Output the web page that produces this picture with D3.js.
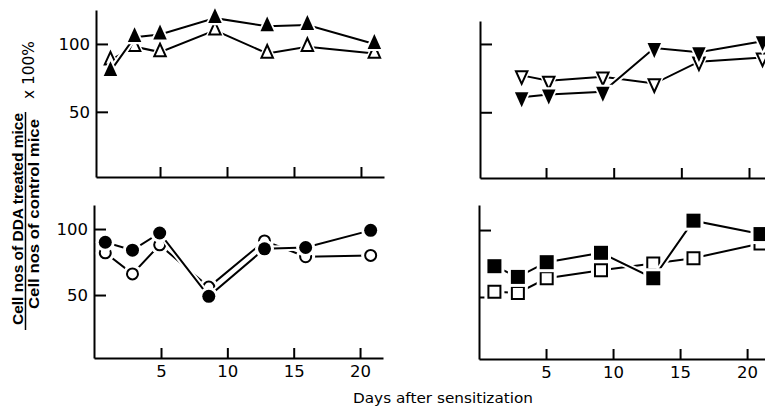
<!doctype html>
<html>
<meta charset="UTF-8">
<head>
<title>DDA treated / control</title>
<script src="https://cdn.jsdelivr.net/npm/d3@7"></script>
<style>
  body { margin:0; background:#fff; }
  .tick text { font-family:'DejaVu Sans', sans-serif; font-size:16.5px; fill:#000; }
</style>
</head>
<body>
<script>
// days after sensitization / ratio (%)
var xTicks = [5, 10, 15, 20];
var yTicks = [50, 100];

// upper left: triangles
var ulDays   = [1.3, 3.1, 5.0, 9.1, 13.0, 16.0, 21.0];
var ulFilled = [80, 105, 107, 119, 113, 114, 100];
var ulOpen   = [88, 98, 94, 110, 93, 98, 93];

// upper right: inverted triangles
var urDays   = [3.2, 5.2, 9.2, 13.0, 16.3, 21.0];
var urFilled = [61, 63, 65, 97, 94, 102];
var urOpen   = [77, 73, 76, 71, 87, 90];

// lower left: circles
var llDays   = [0.8, 2.85, 4.9, 8.6, 12.8, 15.9, 20.8];
var llFilled = [90, 84, 97, 49, 85, 86, 99];
var llOpen   = [82, 66, 88, 56, 91, 79, 80];

// lower right: squares
var lrDays   = [1.15, 2.9, 5.05, 9.1, 13.0, 16.0, 21.0];
var lrFilled = [73, 65, 76, 83, 64, 107, 97];
var lrOpen   = [54, 53, 64, 70, 75, 79, 90];

var width = 765, height = 408;

var svg = d3.select("body").append("svg")
    .attr("width", width)
    .attr("height", height);

// custom marker shapes (size = width of shape)
var triUp = { draw: function(c, s){ var w = s/2, h = s*1.1;
    c.moveTo(0, -h*2/3); c.lineTo(w, h/3); c.lineTo(-w, h/3); c.closePath(); } };
var triDown = { draw: function(c, s){ var w = s/2, h = s*1.1;
    c.moveTo(0, h*2/3); c.lineTo(w, -h/3); c.lineTo(-w, -h/3); c.closePath(); } };
var circ = { draw: function(c, s){ c.moveTo(s/2, 0); c.arc(0, 0, s/2, 0, 2*Math.PI); } };
var sq = { draw: function(c, s){ c.rect(-s/2, -s/2, s, s); } };

var panels = [
  { left:96,  right:384, top:10,  bottom:177, xDom:[0.22, 21.72], yDom:[2, 125],
    yLab:true,  xLab:false, shape:triUp,   mk:13.5, days:ulDays, filled:ulFilled, open:ulOpen },
  { left:480, right:790, top:21,  bottom:178, xDom:[0.12, 23.03], yDom:[1.9, 116.8],
    yLab:false, xLab:false, shape:triDown, mk:13.5, days:urDays, filled:urFilled, open:urOpen },
  { left:94,  right:383, top:205, bottom:358, xDom:[-0.05, 21.73], yDom:[2.3, 118.2],
    yLab:true,  xLab:true,  shape:circ,    mk:13, days:llDays, filled:llFilled, open:llOpen },
  { left:479, right:790, top:205, bottom:359, xDom:[0, 23.2], yDom:[3.7, 118.7],
    yLab:false, xLab:true,  shape:sq,      mk:14, days:lrDays, filled:lrFilled, open:lrOpen }
];

panels.forEach(function(p){
  var x = d3.scaleLinear().domain(p.xDom).range([p.left, p.right]);
  var y = d3.scaleLinear().domain(p.yDom).range([p.bottom, p.top]);

  var xAxis = d3.axisBottom(x).tickValues(xTicks).tickSizeInner(-10).tickSizeOuter(0).tickPadding(7);
  if (!p.xLab) xAxis.tickFormat("");
  var yAxis = d3.axisLeft(y).tickValues(yTicks).tickSizeInner(-12).tickSizeOuter(0).tickPadding(6);
  if (!p.yLab) yAxis.tickFormat("");

  var gx = svg.append("g").attr("transform", "translate(0," + p.bottom + ")").call(xAxis);
  var gy = svg.append("g").attr("transform", "translate(" + p.left + ",0)").call(yAxis);
  [gx, gy].forEach(function(g){
    g.selectAll("path, line").attr("stroke", "#000").attr("stroke-width", 2);
  });
  gy.selectAll(".tick text").attr("dy", "0.36em");

  var line = d3.line().x(function(d){ return x(d.day); }).y(function(d){ return y(d.v); });

  // open series first, filled on top; white halos give the broken-line look
  [["open", p.open], ["filled", p.filled]].forEach(function(s){
    var pts = p.days.map(function(d, i){ return { day:d, v:s[1][i] }; });
    var g = svg.append("g");
    g.append("path").datum(pts).attr("d", line)
      .attr("fill", "none").attr("stroke", "#fff").attr("stroke-width", 6);
    g.append("path").datum(pts).attr("d", line)
      .attr("fill", "none").attr("stroke", "#000").attr("stroke-width", 2);
    g.selectAll(".halo").data(pts).enter().append("path")
      .attr("class", "halo")
      .attr("transform", function(d){ return "translate(" + x(d.day) + "," + y(d.v) + ")"; })
      .attr("d", d3.symbol().type(p.shape).size(p.mk + 6))
      .attr("fill", "#fff");
    g.selectAll(".mk").data(pts).enter().append("path")
      .attr("class", "mk")
      .attr("transform", function(d){ return "translate(" + x(d.day) + "," + y(d.v) + ")"; })
      .attr("d", d3.symbol().type(p.shape).size(s[0] == "open" ? p.mk - 2 : p.mk))
      .attr("fill", s[0] == "open" ? "#fff" : "#000")
      .attr("stroke", "#000")
      .attr("stroke-width", s[0] == "open" ? 2 : 0);
  });
});

// y label as a fraction
svg.append("text")
  .attr("transform", "translate(23,219) rotate(-90)")
  .attr("text-anchor", "middle")
  .attr("font-family", "'Liberation Sans', Arial, sans-serif")
  .attr("font-weight", "bold")
  .attr("font-size", 14)
  .attr("textLength", 212)
  .attr("lengthAdjust", "spacingAndGlyphs")
  .text("Cell nos  of DDA treated mice");

svg.append("line")
  .attr("x1", 25.5).attr("x2", 25.5).attr("y1", 112).attr("y2", 330)
  .attr("stroke", "#000").attr("stroke-width", 1.5);

svg.append("text")
  .attr("transform", "translate(39,214) rotate(-90)")
  .attr("text-anchor", "middle")
  .attr("font-family", "'Liberation Sans', Arial, sans-serif")
  .attr("font-weight", "bold")
  .attr("font-size", 14)
  .attr("textLength", 190)
  .attr("lengthAdjust", "spacingAndGlyphs")
  .text("Cell nos of control mice");

svg.append("text")
  .attr("transform", "translate(34,70) rotate(-90)")
  .attr("text-anchor", "middle")
  .attr("font-family", "'DejaVu Sans', sans-serif")
  .attr("font-size", 15)
  .attr("textLength", 58)
  .attr("lengthAdjust", "spacingAndGlyphs")
  .text("x 100%");

svg.append("text")
  .attr("x", 443).attr("y", 403)
  .attr("text-anchor", "middle")
  .attr("font-family", "'DejaVu Sans', sans-serif")
  .attr("font-size", 14.5)
  .attr("textLength", 180)
  .attr("lengthAdjust", "spacingAndGlyphs")
  .text("Days after sensitization");
</script>
</body>
</html>
